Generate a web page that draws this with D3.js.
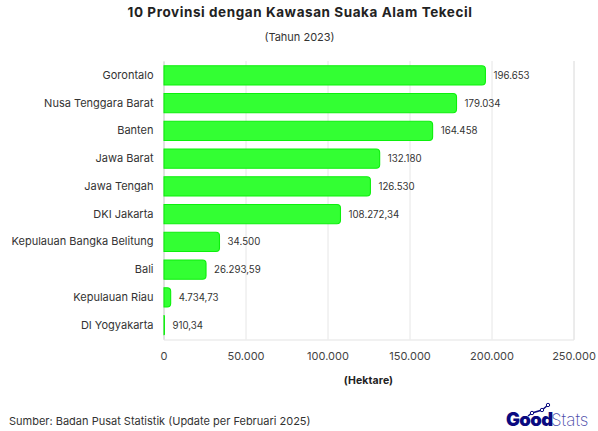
<!DOCTYPE html>
<html><head><meta charset="utf-8">
<script src="https://cdn.jsdelivr.net/npm/d3@7/dist/d3.min.js"></script>
<style>html,body{margin:0;padding:0;background:#fff}svg{display:block;font-family:Inter,sans-serif}</style>
</head><body><div id="c"></div>
<script>
const provinces=["Gorontalo","Nusa Tenggara Barat","Banten","Jawa Barat","Jawa Tengah","DKI Jakarta","Kepulauan Bangka Belitung","Bali","Kepulauan Riau","DI Yogyakarta"];
const hectares=[196653,179034,164458,132180,126530,108272.34,34500,26293.59,4734.73,910.34];
const valueLabels=["196.653","179.034","164.458","132.180","126.530","108.272,34","34.500","26.293,59","4.734,73","910,34"];
const xTicks=[0,50000,100000,150000,200000,250000];
const xTickLabels=["0","50.000","100.000","150.000","200.000","250.000"];
const logoTrend=[[0,0],[4,3],[14,6],[20,11]];

const svg=d3.select("#c").append("svg").attr("width",598).attr("height",431);
const x=d3.scaleLinear().domain([0,250000]).range([163.5,573.5]);
const y=d3.scaleBand().domain(provinces).range([61.5,339]).paddingInner(0.31).paddingOuter(0.155);

svg.append("text").attr("x",300).attr("y",16.5).attr("text-anchor","middle").attr("font-size",13.5).attr("font-weight",700).attr("letter-spacing",0.57).attr("fill","#222").text("10 Provinsi dengan Kawasan Suaka Alam Tekecil");
svg.append("text").attr("x",299.5).attr("y",40.5).attr("text-anchor","middle").attr("font-size",11).attr("fill","#333").text("(Tahun 2023)");

const gx=svg.append("g").attr("transform","translate(0,339.5)")
 .call(d3.axisBottom(x).tickValues(xTicks).tickFormat((d,i)=>xTickLabels[i]).tickSize(-278.5).tickPadding(13));
gx.select(".domain").attr("stroke","#e3e3e3");
gx.selectAll(".tick line").attr("stroke","#e6e6e6");
gx.selectAll(".tick text").attr("font-size",11).attr("font-family","Inter,sans-serif").attr("fill","#444");

const gy=svg.append("g").attr("transform","translate(163.5,0)")
 .call(d3.axisLeft(y).tickSize(0).tickPadding(10));
gy.select(".domain").attr("stroke","#d8d8d8");
gy.selectAll(".tick text").attr("font-size",11).attr("font-family","Inter,sans-serif").attr("fill","#333");

svg.append("g").selectAll("path").data(provinces).join("path")
 .attr("d",(p,i)=>{
   const x0=x(0)+0.5,x1=x(hectares[i])-0.6,y0=y(p),h=y.bandwidth(),r=Math.min(3.5,Math.max(0,x1-x0));
   return `M${x0},${y0}H${x1-r}Q${x1},${y0} ${x1},${y0+r}V${y0+h-r}Q${x1},${y0+h} ${x1-r},${y0+h}H${x0}Z`;
 })
 .attr("fill","#33ff33").attr("stroke","#0cf00c").attr("stroke-width",1.1);

svg.append("g").selectAll("text").data(provinces).join("text")
 .attr("x",(p,i)=>x(hectares[i])+7.5).attr("y",p=>y(p)+y.bandwidth()/2).attr("dy","0.35em")
 .attr("font-size",9.7).attr("fill","#333").text((p,i)=>valueLabels[i]);

svg.append("text").attr("x",368.5).attr("y",384).attr("text-anchor","middle").attr("font-size",10.5).attr("font-weight",700).attr("letter-spacing",0.1).attr("fill","#222").text("(Hektare)");
svg.append("text").attr("x",9).attr("y",425).attr("font-size",11).attr("fill","#333").text("Sumber: Badan Pusat Statistik (Update per Februari 2025)");

const logo=svg.append("g").attr("transform","translate(506,426)");
logo.append("text").attr("x",0).attr("y",0).attr("font-size",18.5).attr("font-weight",900).attr("letter-spacing",-0.6).attr("fill","#0a0a80").text("Good");
logo.append("text").attr("x",45).attr("y",0).attr("font-size",17).attr("font-weight",200).attr("fill","#4a4aa8").text("Stats");
const lx=d3.scaleLinear().domain([0,20]).range([22,42]);
const ly=d3.scaleLinear().domain([0,11]).range([-10,-21]);
logo.append("path").attr("d",d3.line().x(d=>lx(d[0])).y(d=>ly(d[1]))(logoTrend)).attr("fill","none").attr("stroke","#0a0a80").attr("stroke-width",1.4);
logo.selectAll("circle").data(logoTrend.slice(1)).join("circle").attr("cx",d=>lx(d[0])).attr("cy",d=>ly(d[1])).attr("r",1.7).attr("fill","#fff").attr("stroke","#0a0a80").attr("stroke-width",1);
</script></body></html>
